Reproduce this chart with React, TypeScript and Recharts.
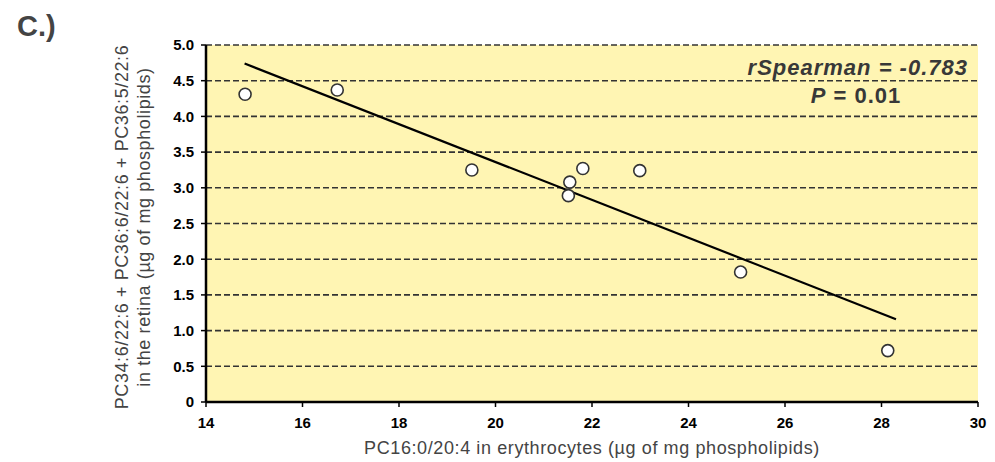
import React from "react";
import {
  ScatterChart,
  Scatter,
  XAxis,
  YAxis,
  CartesianGrid,
  Customized,
} from "recharts";

// PC16:0/20:4 in erythrocytes vs retina PC (µg/mg phospholipids)
const erythrocytePC = [14.81, 16.72, 19.51, 21.54, 21.51, 21.81, 22.99, 25.08, 28.13];
const retinaPC = [4.31, 4.37, 3.25, 3.08, 2.89, 3.27, 3.24, 1.82, 0.72];

// regression line end points
const trendX = [14.8, 28.3];
const trendY = [4.74, 1.16];

const xTicks = [14, 16, 18, 20, 22, 24, 26, 28, 30];
const yTicks = [0, 0.5, 1.0, 1.5, 2.0, 2.5, 3.0, 3.5, 4.0, 4.5, 5.0];

const FONT = "'Liberation Sans', Arial, sans-serif";

const points = erythrocytePC.map((x, i) => ({ x, y: retinaPC[i] }));
const trend = trendX.map((x, i) => ({ x, y: trendY[i] }));

const Dot = (props: any) => (
  <circle cx={props.cx} cy={props.cy} r={6} fill="#fff" stroke="#333" strokeWidth={1.6} />
);

const Texts = () => (
  <g fontFamily={FONT}>
    <text x={17} y={36} fontSize={29} fontWeight="bold" fill="#444">
      C.)
    </text>
    <text
      x={968}
      y={75}
      fontSize={22}
      fontWeight="bold"
      fontStyle="italic"
      fill="#383838"
      textAnchor="end"
      letterSpacing={1}
    >
      rSpearman = -0.783
    </text>
    <text x={856} y={103} fontSize={22} fontWeight="bold" fill="#383838" textAnchor="middle" letterSpacing={1}>
      <tspan fontStyle="italic">P</tspan>
      <tspan> = 0.01</tspan>
    </text>
    <text
      x={592}
      y={454}
      fontSize={18}
      fill="#444"
      textAnchor="middle"
      letterSpacing={0.6}
    >
      PC16:0/20:4 in erythrocytes (µg of mg phospholipids)
    </text>
    <text
      x={128}
      y={227}
      transform="rotate(-90 128 227)"
      fontSize={18}
      fill="#444"
      textAnchor="middle"
      letterSpacing={0.6}
    >
      PC34:6/22:6 + PC36:6/22:6 + PC36:5/22:6
    </text>
    <text
      x={150}
      y={227}
      transform="rotate(-90 150 227)"
      fontSize={18}
      fill="#444"
      textAnchor="middle"
      letterSpacing={0.6}
    >
      in the retina (µg of mg phospholipids)
    </text>
  </g>
);

const tickStyle = { fill: "#000", fontSize: 15, fontWeight: "bold", fontFamily: FONT };

export default function App() {
  return (
    <div style={{ position: "absolute", left: 0, top: 0, background: "#fff" }}>
      <ScatterChart
        width={995}
        height={462}
        margin={{ top: 45, right: 17, bottom: 0, left: 0 }}
      >
        <CartesianGrid
          vertical={false}
          horizontal
          stroke="#333"
          strokeWidth={1.6}
          strokeDasharray="6 3"
          fill="#FFF5B3"
          fillOpacity={1}
        />
        <XAxis
          type="number"
          dataKey="x"
          domain={[14, 30]}
          ticks={xTicks}
          allowDataOverflow
          height={60}
          tickSize={5}
          tickMargin={10}
          axisLine={{ stroke: "#000", strokeWidth: 2.5 }}
          tickLine={{ stroke: "#000", strokeWidth: 1.5 }}
          tick={tickStyle}
        />
        <YAxis
          type="number"
          dataKey="y"
          domain={[0, 5]}
          ticks={yTicks}
          allowDataOverflow
          width={206}
          tickSize={5}
          tickMargin={7}
          axisLine={{ stroke: "#000", strokeWidth: 2.5 }}
          tickLine={{ stroke: "#000", strokeWidth: 1.5 }}
          tick={tickStyle}
          tickFormatter={(v: number) => (v === 0 ? "0" : v.toFixed(1))}
        />
        <Scatter
          data={trend}
          line={{ stroke: "#000", strokeWidth: 2.2 }}
          shape={() => <g />}
          isAnimationActive={false}
        />
        <Scatter data={points} shape={Dot} isAnimationActive={false} />
        <Customized component={Texts} />
      </ScatterChart>
    </div>
  );
}
